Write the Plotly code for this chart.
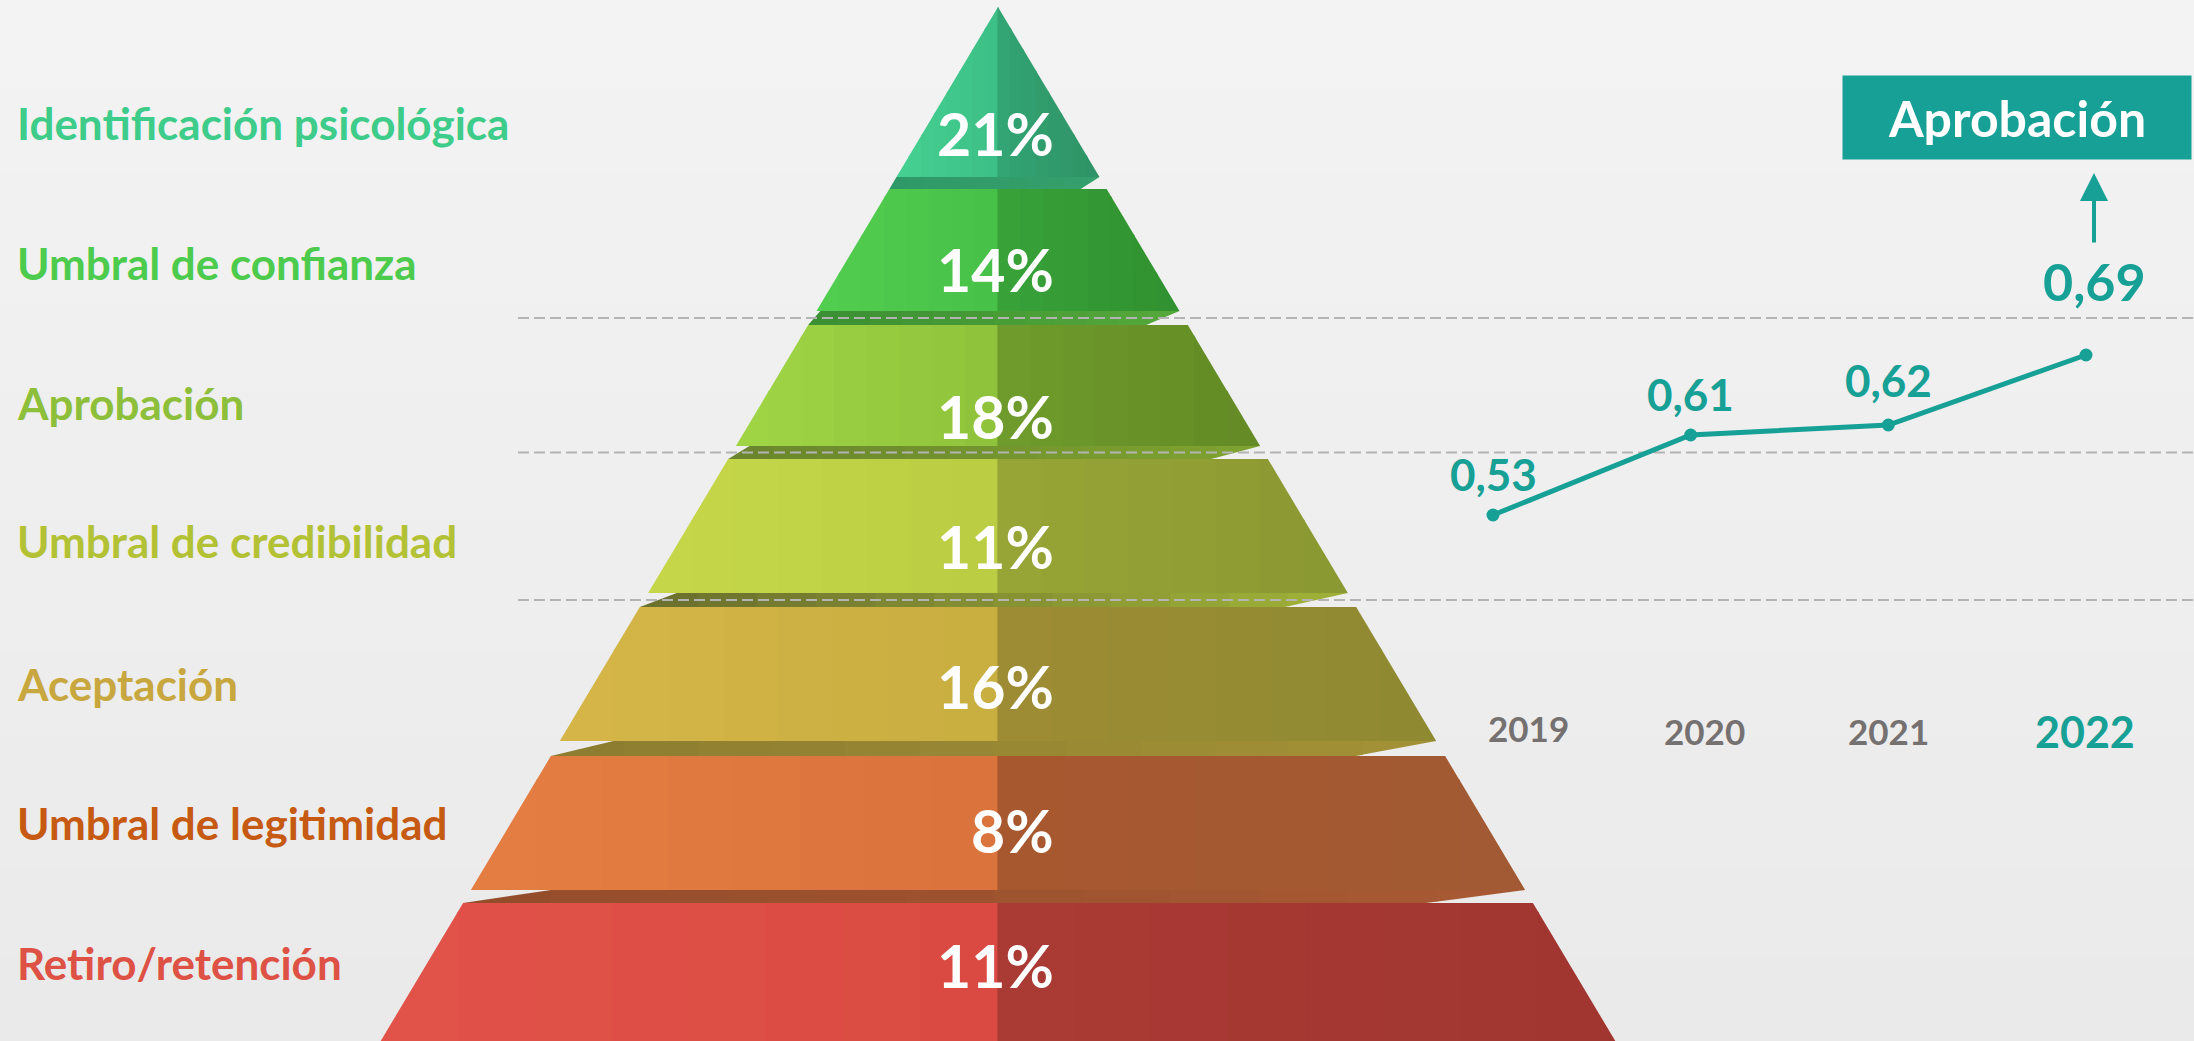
import plotly.graph_objects as go

# ---------------- data ----------------
levels = ["Identificación psicológica", "Umbral de confianza", "Aprobación",
          "Umbral de credibilidad", "Aceptación", "Umbral de legitimidad",
          "Retiro/retención"]
level_pct = [21, 14, 18, 11, 16, 8, 11]
years = [2019, 2020, 2021, 2022]
approval = [0.53, 0.61, 0.62, 0.69]
highlight_label = "Aprobación"

# ---------------- styles / layout constants ----------------
W, H = 2194, 1041
FONT = "Lato"
TEAL = "#17A096"
GRAY = "#767171"

label_colors = ["#3ECC8A", "#4CCB4C", "#8DBF3A", "#B3C235", "#C8A73E", "#C65A12", "#DE5145"]
face_colors = [  # left outer, left inner, right inner, right outer
    ("#46D192", "#3CBF86", "#33A574", "#2E9265"),
    ("#52CE50", "#47C047", "#39A239", "#2F912F"),
    ("#A0D646", "#8FC23B", "#6F9C2C", "#638A25"),
    ("#C6D849", "#BACC42", "#98A536", "#8A9832"),
    ("#D6B548", "#C8AE40", "#9E8C34", "#8E8A32"),
    ("#E57E42", "#D9733C", "#A9582F", "#A05A33"),
    ("#E2524A", "#D94A41", "#AA3A34", "#A03530"),
]
band_colors = [
    ("#2F9868", "#35A06C"),
    ("#3A8F33", "#55A83A"),
    ("#6A852C", "#7EA330"),
    ("#6A6E2E", "#A0B238"),
    ("#8C7C30", "#A39236"),
    ("#934C2B", "#A85A33"),
]

# pyramid geometry (pixels)
CX, APEX_Y, SLOPE = 998, 7, 0.597
layer_top = [7, 189, 325, 459, 607, 756, 903]
layer_bot = [177, 311, 446, 593, 741, 890, 1041]
band_gl = [0.0, 0.01, 0.025, 0.04, 0.06, 0.075]
band_gr = [0.12, 0.11, 0.105, 0.10, 0.10, 0.10]
label_x = 15
label_y = [123, 263, 403, 541, 684, 823, 963]
pct_right = 1056
pct_y = [133, 269, 416, 546, 686, 830, 965]
dash_x0 = 518

# line chart geometry
X_FIRST, X_LAST = 1493, 2086
Y2_RANGE = [0.004, 1.045]
val_yshift = [41, 41, 45, 74]
val_xshift = [0, 0, 0, 8]
val_size = [44, 44, 44, 52]
year_y = [728, 731, 731, 731]
year_xshift = [35, 14, 0, -1]
year_size = [35, 35, 35, 43]
box = (1843, 76, 2191, 159)


def hex2rgb(h):
    h = h.lstrip('#')
    return tuple(int(h[i:i + 2], 16) for i in (0, 2, 4))


def mix(c1, c2, t):
    a, b = hex2rgb(c1), hex2rgb(c2)
    return "rgb(%d,%d,%d)" % tuple(round(a[k] + (b[k] - a[k]) * t) for k in range(3))


def half(y):
    return SLOPE * (y - APEX_Y)


def clip(poly, x0, x1):
    def clip_half(pts, inside, xc):
        out = []
        n = len(pts)
        for k in range(n):
            cur, prev = pts[k], pts[k - 1]
            def inter(p, q):
                t = (xc - p[0]) / (q[0] - p[0])
                return (xc, p[1] + t * (q[1] - p[1]))
            if inside(cur):
                if not inside(prev):
                    out.append(inter(prev, cur))
                out.append(cur)
            elif inside(prev):
                out.append(inter(prev, cur))
        return out
    pts = clip_half(poly, lambda p: p[0] >= x0, x0)
    if not pts:
        return pts
    pts = clip_half(pts, lambda p: p[0] <= x1, x1)
    return pts


def path(pts):
    return "M " + " L ".join("%.2f,%.2f" % p for p in pts) + " Z"


shapes = []

# background gradient
NB = 24
for k in range(NB):
    shapes.append(dict(type="rect", xref="paper", yref="paper", x0=0, x1=1,
                       y0=1 - (k + 1) / NB - 0.002, y1=1 - k / NB,
                       fillcolor=mix("#F3F3F3", "#EAEAEA", k / (NB - 1)),
                       line=dict(width=0), layer="below"))


def gradient_poly(poly, xa, xb, ca, cb, n):
    for s in range(n):
        x0 = xa + (xb - xa) * s / n
        x1 = xa + (xb - xa) * (s + 1) / n
        pts = clip(poly, x0 - 0.6, x1 + 0.6)
        if len(pts) >= 3:
            shapes.append(dict(type="path", xref="x", yref="y", path=path(pts),
                               fillcolor=mix(ca, cb, (s + 0.5) / n),
                               line=dict(width=0), layer="below"))


NS = 8
for i in range(len(levels)):
    yt, yb = layer_top[i], layer_bot[i]
    poly = [(CX - half(yt), yt), (CX + half(yt), yt), (CX + half(yb), yb), (CX - half(yb), yb)]
    lo, li, ri, ro = face_colors[i]
    gradient_poly(poly, CX - half(yb), CX, lo, li, NS)
    gradient_poly(poly, CX, CX + half(yb), ri, ro, NS)
    if i < len(levels) - 1:
        y1, y2 = yb, layer_top[i + 1]
        wl = 2 * half(y2)
        bpoly = [(CX - half(y1) + band_gl[i] * wl, y1), (CX + half(y1), y1),
                 (CX + half(y2) - band_gr[i] * wl, y2), (CX - half(y2), y2)]
        bl, br = band_colors[i]
        gradient_poly(bpoly, CX - half(y2), CX + half(y1), bl, br, 12)

# dashed guide lines in the gaps around the highlighted level
hi = levels.index(highlight_label)
for j in (hi - 1, hi, hi + 1):
    yg = (layer_bot[j] + layer_top[j + 1]) / 2
    shapes.append(dict(type="line", xref="x", yref="y", x0=dash_x0, x1=W, y0=yg, y1=yg,
                       line=dict(color="#B4B4B4", width=2, dash="11px,5px"), layer="below"))

annotations = []
# level labels & percentages
for i, name in enumerate(levels):
    annotations.append(dict(x=label_x, y=label_y[i], xref="x", yref="y", xanchor="left",
                            yanchor="middle", showarrow=False,
                            text="<b>%s</b>" % name,
                            font=dict(family=FONT, size=44, color=label_colors[i])))
    annotations.append(dict(x=pct_right, y=pct_y[i], xref="x", yref="y", xanchor="right",
                            yanchor="middle", showarrow=False,
                            text="<b>%d%%</b>" % level_pct[i],
                            font=dict(family=FONT, size=59, color="white")))

# value labels
for k, (yr, v) in enumerate(zip(years, approval)):
    annotations.append(dict(x=yr, y=v, xref="x2", yref="y2", showarrow=False,
                            xanchor="center", yanchor="middle",
                            xshift=val_xshift[k], yshift=val_yshift[k],
                            text="<b>%s</b>" % ("%.2f" % v).replace(".", ","),
                            font=dict(family=FONT, size=val_size[k], color=TEAL)))
    annotations.append(dict(x=yr, y=1 - year_y[k] / H, xref="x2", yref="paper",
                            showarrow=False, xanchor="center", yanchor="middle",
                            xshift=year_xshift[k],
                            text="<b>%d</b>" % yr,
                            font=dict(family=FONT, size=year_size[k],
                                      color=TEAL if k == len(years) - 1 else GRAY)))

# arrow to the highlight box
annotations.append(dict(x=years[-1], y=approval[-1], xref="x2", yref="y2", text="",
                        showarrow=True, arrowhead=2, arrowsize=1.4, arrowwidth=4,
                        arrowcolor=TEAL, ax=0, ay=71, xshift=8, yshift=182, standoff=0))
# highlight box
bx0, by0, bx1, by1 = box
annotations.append(dict(x=(bx0 + bx1) / 2, y=(by0 + by1) / 2, xref="x", yref="y",
                        showarrow=False, xanchor="center", yanchor="middle",
                        width=bx1 - bx0, height=by1 - by0, bgcolor=TEAL, borderpad=0,
                        text="<b>%s</b>" % highlight_label,
                        font=dict(family=FONT, size=50, color="white")))

ppy = (X_LAST - X_FIRST) / (years[-1] - years[0])
x2_range = [years[0] - X_FIRST / ppy, years[0] + (W - X_FIRST) / ppy]

fig = go.Figure()
fig.add_trace(go.Scatter(x=years, y=approval, mode="lines+markers", xaxis="x2", yaxis="y2",
                         line=dict(color=TEAL, width=5), marker=dict(size=13, color=TEAL),
                         hoverinfo="skip", showlegend=False))

fig.update_layout(
    width=W, height=H, margin=dict(l=0, r=0, t=0, b=0), autosize=False,
    paper_bgcolor="#EEEEEE", plot_bgcolor="rgba(0,0,0,0)",
    xaxis=dict(range=[0, W], visible=False, fixedrange=True),
    yaxis=dict(range=[H, 0], visible=False, fixedrange=True),
    xaxis2=dict(range=x2_range, overlaying="x", visible=False, fixedrange=True),
    yaxis2=dict(range=Y2_RANGE, overlaying="y", visible=False, fixedrange=True),
    shapes=shapes, annotations=annotations, showlegend=False,
)

fig.write_html("out.html", config={"displayModeBar": False},
               post_script="document.body.style.margin='0px';document.body.style.overflow='hidden';")
